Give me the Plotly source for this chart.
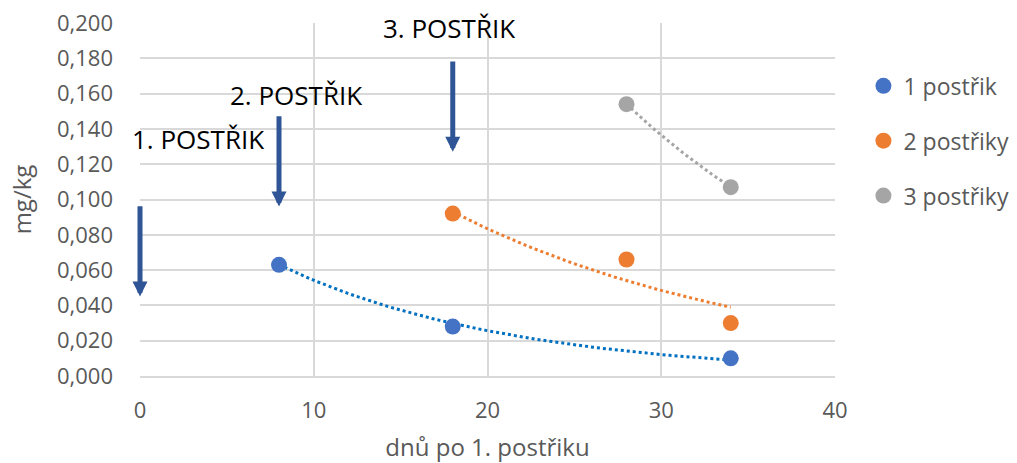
import numpy as np
import plotly.graph_objects as go

# data
days_1 = [8, 18, 34]
vals_1 = [0.063, 0.028, 0.010]
days_2 = [18, 28, 34]
vals_2 = [0.092, 0.066, 0.030]
days_3 = [28, 34]
vals_3 = [0.154, 0.107]
names = ["1 postřik", "2 postřiky", "3 postřiky"]

# exponential trendline end values
trend_start = [0.063, 0.093, 0.154]
trend_end = [0.009, 0.039, 0.107]

spray_days = [0, 8, 18]
spray_labels = ["1. POSTŘIK", "2. POSTŘIK", "3. POSTŘIK"]
arrow_top = [0.097, 0.148, 0.179]
arrow_bottom = [0.045, 0.096, 0.127]

marker_colors = ["#4472C4", "#ED7D31", "#A5A5A5"]
trend_colors = ["#0070C0", "#ED7D31", "#A5A5A5"]
FONT = "Open Sans, Liberation Sans, sans-serif"

fig = go.Figure()
series = [(days_1, vals_1), (days_2, vals_2), (days_3, vals_3)]

# exponential trendlines
for i, (dx, dy) in enumerate(series):
    x0, x1 = min(dx), max(dx)
    b = np.log(trend_end[i] / trend_start[i]) / (x1 - x0)
    xs = np.linspace(x0, x1, 60)
    ys = trend_start[i] * np.exp(b * (xs - x0))
    fig.add_trace(go.Scatter(x=xs, y=ys, mode="lines",
                             line=dict(color=trend_colors[i], width=3, dash="dot"),
                             showlegend=False, hoverinfo="skip"))

for i, (dx, dy) in enumerate(series):
    fig.add_trace(go.Scatter(x=dx, y=dy, mode="markers", name=names[i],
                             legendgroup=f"g{i}",
                             marker=dict(color=marker_colors[i], size=16)))

label_pos = [(3.35, 0.134), (9.0, 0.159), (17.8, 0.197)]
for d, lab, top, bot, (lx, ly) in zip(spray_days, spray_labels, arrow_top, arrow_bottom, label_pos):
    fig.add_annotation(x=d, y=bot, ax=d, ay=top, xref="x", yref="y", axref="x", ayref="y",
                       showarrow=True, arrowhead=2, arrowsize=0.6, arrowwidth=5,
                       arrowcolor="#2F5597", text="")
    fig.add_annotation(x=lx, y=ly, xref="x", yref="y", text=lab, showarrow=False,
                       font=dict(family=FONT, size=26, color="#000000"))

grid = "#D9D9D9"
fig.update_layout(
    width=1017, height=463,
    margin=dict(l=140, r=182, t=23, b=87),
    paper_bgcolor="white", plot_bgcolor="white",
    separators=", ",
    font=dict(family=FONT, size=22, color="#595959"),
    legend=dict(xref="container", yref="container", x=0.849, xanchor="left",
                y=0.861, yanchor="top",
                font=dict(size=23, color="#595959"), tracegroupgap=22,
                itemwidth=30),
    xaxis=dict(range=[0, 40], dtick=10, showgrid=True, gridcolor=grid, gridwidth=1.5,
               zeroline=False, showline=True, linecolor=grid, linewidth=1.5,
               ticklabelstandoff=14, automargin=False,
               title=dict(text="dnů po 1. postřiku", standoff=17, font=dict(size=24))),
    yaxis=dict(range=[0, 0.2], dtick=0.02, tickformat=".3f", showgrid=True, gridcolor=grid,
               gridwidth=1.5, zeroline=False, showline=False, ticklabelstandoff=26,
               automargin=False,
               title=dict(text="mg/kg", standoff=18, font=dict(size=24))),
)

fig.write_html("out.html")
